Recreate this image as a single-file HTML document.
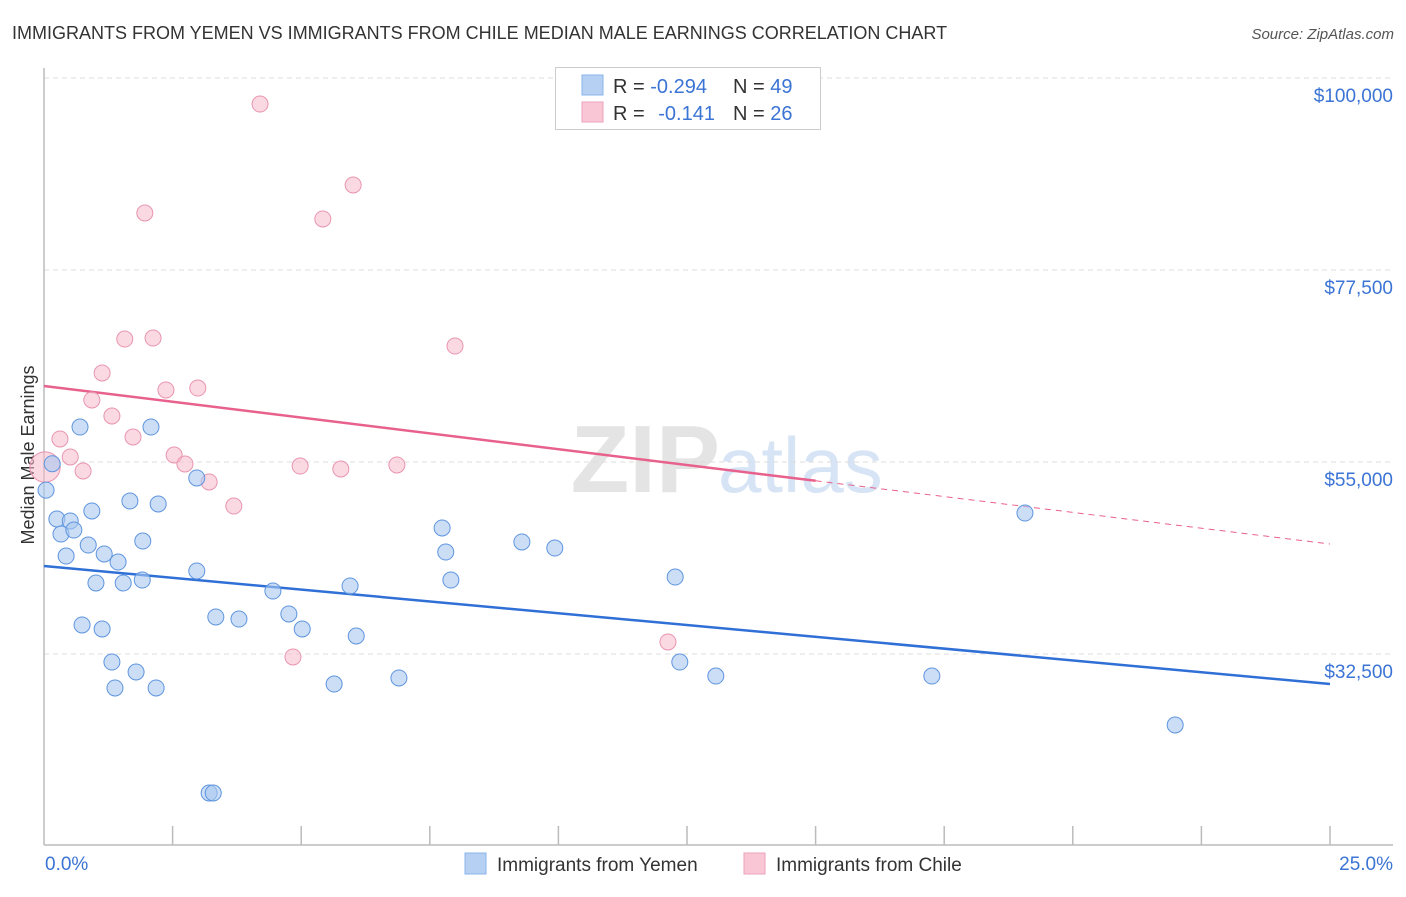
<!DOCTYPE html>
<html><head><meta charset="utf-8"><style>
body{margin:0;background:#fff;font-family:"Liberation Sans",sans-serif;}
svg text{font-family:"Liberation Sans",sans-serif;}
</style></head><body>
<svg id="chart" width="1406" height="892" viewBox="0 0 1406 892" xmlns="http://www.w3.org/2000/svg">
<text x="12" y="39" font-size="18" fill="#333">IMMIGRANTS FROM YEMEN VS IMMIGRANTS FROM CHILE MEDIAN MALE EARNINGS CORRELATION CHART</text>
<text x="1394" y="39" font-size="15" fill="#555" font-style="italic" text-anchor="end">Source: ZipAtlas.com</text>
<text x="720" y="492" font-size="96" fill="#e4e4e4" text-anchor="end" font-family="Liberation Serif" font-weight="bold">ZIP</text>
<text x="718" y="492" font-size="78" fill="#d6e4f5">atlas</text>
<text transform="translate(34,455) rotate(-90)" font-size="18" fill="#333" text-anchor="middle">Median Male Earnings</text>
<g id="grid"></g><g id="axes"></g><g id="trends"></g><g id="points"></g>
<g>
<rect x="555.5" y="67.5" width="265" height="62" fill="#fff" stroke="#ccc"/>
<rect x="582" y="75" width="21" height="20" fill="#b5d0f3" stroke="#8ab3ea"/>
<rect x="582" y="102" width="21" height="20" fill="#f9c6d5" stroke="#eea3bb"/>
<text x="613" y="93" font-size="20" fill="#333">R = <tspan fill="#3b74d4">-0.294</tspan></text>
<text x="733" y="93" font-size="20" fill="#333">N = <tspan fill="#3b74d4">49</tspan></text>
<text x="613" y="120" font-size="20" fill="#333">R = <tspan fill="#3b74d4" dx="8">-0.141</tspan></text>
<text x="733" y="120" font-size="20" fill="#333">N = <tspan fill="#3b74d4">26</tspan></text>
</g>
<g>
<rect x="465" y="853" width="21" height="21" fill="#b5d0f3" stroke="#8ab3ea"/>
<text x="497" y="871" font-size="19" fill="#333">Immigrants from Yemen</text>
<rect x="744" y="853" width="21" height="21" fill="#f9c6d5" stroke="#eea3bb"/>
<text x="776" y="871" font-size="19" fill="#333">Immigrants from Chile</text>
</g>
</svg>
<script>
const yTicks=[100000,77500,55000,32500];
const yTickLabels=["$100,000","$77,500","$55,000","$32,500"];
const xTickLabels=["0.0%","25.0%"];
const yemenX=[0.16,0.04,0.70,2.08,0.25,0.51,0.33,0.58,0.93,1.67,2.22,0.43,0.86,1.17,1.44,1.92,1.01,1.54,1.91,2.97,2.97,0.74,1.13,1.32,1.79,1.38,2.18,3.34,3.79,4.45,4.76,5.02,5.95,6.07,5.64,6.90,7.74,7.81,7.91,9.29,9.93,12.27,12.36,13.06,17.26,19.07,21.99,3.21,3.29];
const yemenY=[54800,51700,59100,59100,48320,48090,46560,47030,49260,50430,50080,43980,45270,44220,43280,45740,40820,40820,41170,53130,42230,35900,35430,31560,30390,28520,28520,36840,36600,39880,37190,35430,40470,34610,28980,29690,47270,44450,41170,45630,44920,41520,31560,29920,29920,49020,24180,16210,16210];
const chileX=[4.20,6.01,1.96,5.42,1.57,2.12,7.99,1.13,2.37,2.99,0.93,1.32,1.73,0.31,0.51,0.76,0.02,2.53,2.74,3.21,3.69,4.98,5.77,6.86,12.13,4.84];
const chileY=[96950,87460,84180,83480,69410,69530,68590,65430,63440,63670,62270,60390,57930,57700,55590,53950,54410,55820,54770,52660,49840,54530,54180,54650,33910,32150];
const chileSize=[1,1,1,1,1,1,1,1,1,1,1,1,1,1,1,1,2,1,1,1,1,1,1,1,1,1];
const yemenTrend=[42810,28980];   // values at 0% and 25%
const chileTrend=[63910,45390];   // values at 0% and 25%
const chileSolidEnd=15;

const NS="http://www.w3.org/2000/svg";
const X0=44,X1=1330;
function xs(p){return X0+(p/25)*(X1-X0);}
function ys(v){return 462-(v-55000)*(192/22500);}
function mk(tag,attrs,parent){const e=document.createElementNS(NS,tag);for(const k in attrs)e.setAttribute(k,attrs[k]);parent.appendChild(e);return e;}
const grid=document.getElementById('grid'),axes=document.getElementById('axes'),trends=document.getElementById('trends'),pts=document.getElementById('points');
yTicks.forEach((t,i)=>{
  const l=mk('line',{x1:X0,x2:1393,y1:ys(t),y2:ys(t),stroke:'#ddd','stroke-dasharray':'5,4'},grid);
  
  
  const tx=mk('text',{x:1393,y:ys(t)+24,'font-size':19,fill:'#3b74d4','text-anchor':'end'},axes);
  tx.textContent=yTickLabels[i];
  
  
});
const ya=mk('line',{x1:X0,x2:X0,y1:68,y2:845,stroke:'#bbb','stroke-width':1.5},axes);


const xa=mk('line',{x1:X0,x2:1393,y1:845,y2:845,stroke:'#bbb','stroke-width':1.5},axes);


for(let i=1;i<=10;i++){
  const t=mk('line',{x1:xs(i*2.5),x2:xs(i*2.5),y1:826,y2:845,stroke:'#bbb','stroke-width':1.5},axes);
  
  
}
const xl0=mk('text',{x:45,y:870,'font-size':19,fill:'#3b74d4'},axes);xl0.textContent=xTickLabels[0];


const xl1=mk('text',{x:1393,y:870,'font-size':19,fill:'#3b74d4','text-anchor':'end'},axes);xl1.textContent=xTickLabels[1];


// trends
const bt=mk('line',{x1:xs(0),y1:ys(yemenTrend[0]),x2:xs(25),y2:ys(yemenTrend[1]),stroke:'#2f6fd6','stroke-width':2.5},trends);


const cMid=chileTrend[0]+(chileTrend[1]-chileTrend[0])*chileSolidEnd/25;
const pt=mk('line',{x1:xs(0),y1:ys(chileTrend[0]),x2:xs(chileSolidEnd),y2:ys(cMid),stroke:'#e8618c','stroke-width':2.5},trends);


const pd=mk('line',{x1:xs(chileSolidEnd),y1:ys(cMid),x2:xs(25),y2:ys(chileTrend[1]),stroke:'#e8618c','stroke-width':1,'stroke-dasharray':'6,5'},trends);


chileX.forEach((x,i)=>{
  const c=mk('circle',{cx:xs(x),cy:ys(chileY[i]),r:8*(chileSize[i]===2?1.9:1),fill:'#f7b9cc','fill-opacity':0.55,stroke:'#e995b0','stroke-width':1},pts);
  
  
});
yemenX.forEach((x,i)=>{
  const c=mk('circle',{cx:xs(x),cy:ys(yemenY[i]),r:8,fill:'#a9c8f0','fill-opacity':0.6,stroke:'#5f95df','stroke-width':1},pts);
  
  
});
</script>
</body></html>
